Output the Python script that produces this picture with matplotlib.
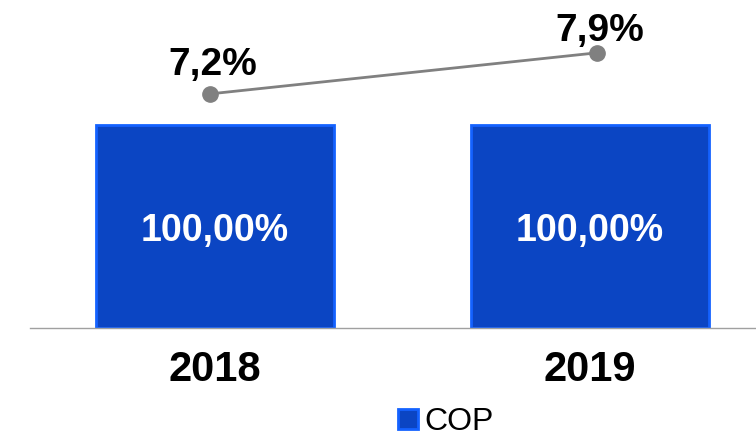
import matplotlib.pyplot as plt
from matplotlib.lines import Line2D

plt.rcParams['font.family'] = ['Liberation Sans', 'DejaVu Sans']

years = ['2018', '2019']
share_cop = [100.0, 100.0]          # bar values (%)
share_labels = ['100,00%', '100,00%']
growth = [7.2, 7.9]                 # line values (%)
growth_labels = ['7,2%', '7,9%']

fig = plt.figure(figsize=(7.56, 4.32), dpi=100)
ax = fig.add_axes([30 / 756, 1 - 328 / 432, 1 - 30 / 756, 328 / 432])

x = range(len(years))
bars = ax.bar(x, share_cop, width=0.635, color='#0B45C3', edgecolor='#1462FF',
              linewidth=2, label='COP', zorder=2)
for b, lab in zip(bars, share_labels):
    ax.annotate(lab, (b.get_x() + b.get_width() / 2, b.get_height() / 2),
                xytext=(0, -3), textcoords='offset points',
                ha='center', va='center', color='white', fontsize=27,
                fontweight='bold', zorder=3)

ax.set_xlim(-0.493, 1.443)
ax.set_ylim(0, 161.6)
for s in ['top', 'right', 'left']:
    ax.spines[s].set_visible(False)
ax.spines['bottom'].set_color('#a0a0a0')
ax.spines['bottom'].set_linewidth(1)
ax.set_yticks([])
ax.set_xticks(list(x))
ax.set_xticklabels(years, fontsize=30, fontweight='bold')
ax.tick_params(axis='x', length=0, pad=16)

# line sits a touch off the bar centres in the original
line_x = [xi + dx for xi, dx in zip(x, [-0.013, 0.019])]
ax2 = ax.twinx()
ax2.set_ylim(3.21, 8.80)
ax2.axis('off')
ax2.plot(line_x, growth, color='#808080', linewidth=2, marker='o',
         markersize=11, zorder=4)
for xi, v, lab, off in zip(line_x, growth, growth_labels, [8, 3]):
    ax2.annotate(lab, (xi, v), xytext=(2, off), textcoords='offset points',
                 ha='center', va='bottom', fontsize=28, fontweight='bold')

handle = Line2D([], [], marker='s', linestyle='none', markersize=15,
                markerfacecolor='#0B45C3', markeredgecolor='#1462FF',
                markeredgewidth=2)
fig.legend([handle], ['COP'], loc='center', bbox_to_anchor=(443 / 756, 10 / 432),
           frameon=False, fontsize=23, handletextpad=0.0, borderaxespad=0,
           handlelength=1.0)

fig.savefig('out.png', dpi=100)
